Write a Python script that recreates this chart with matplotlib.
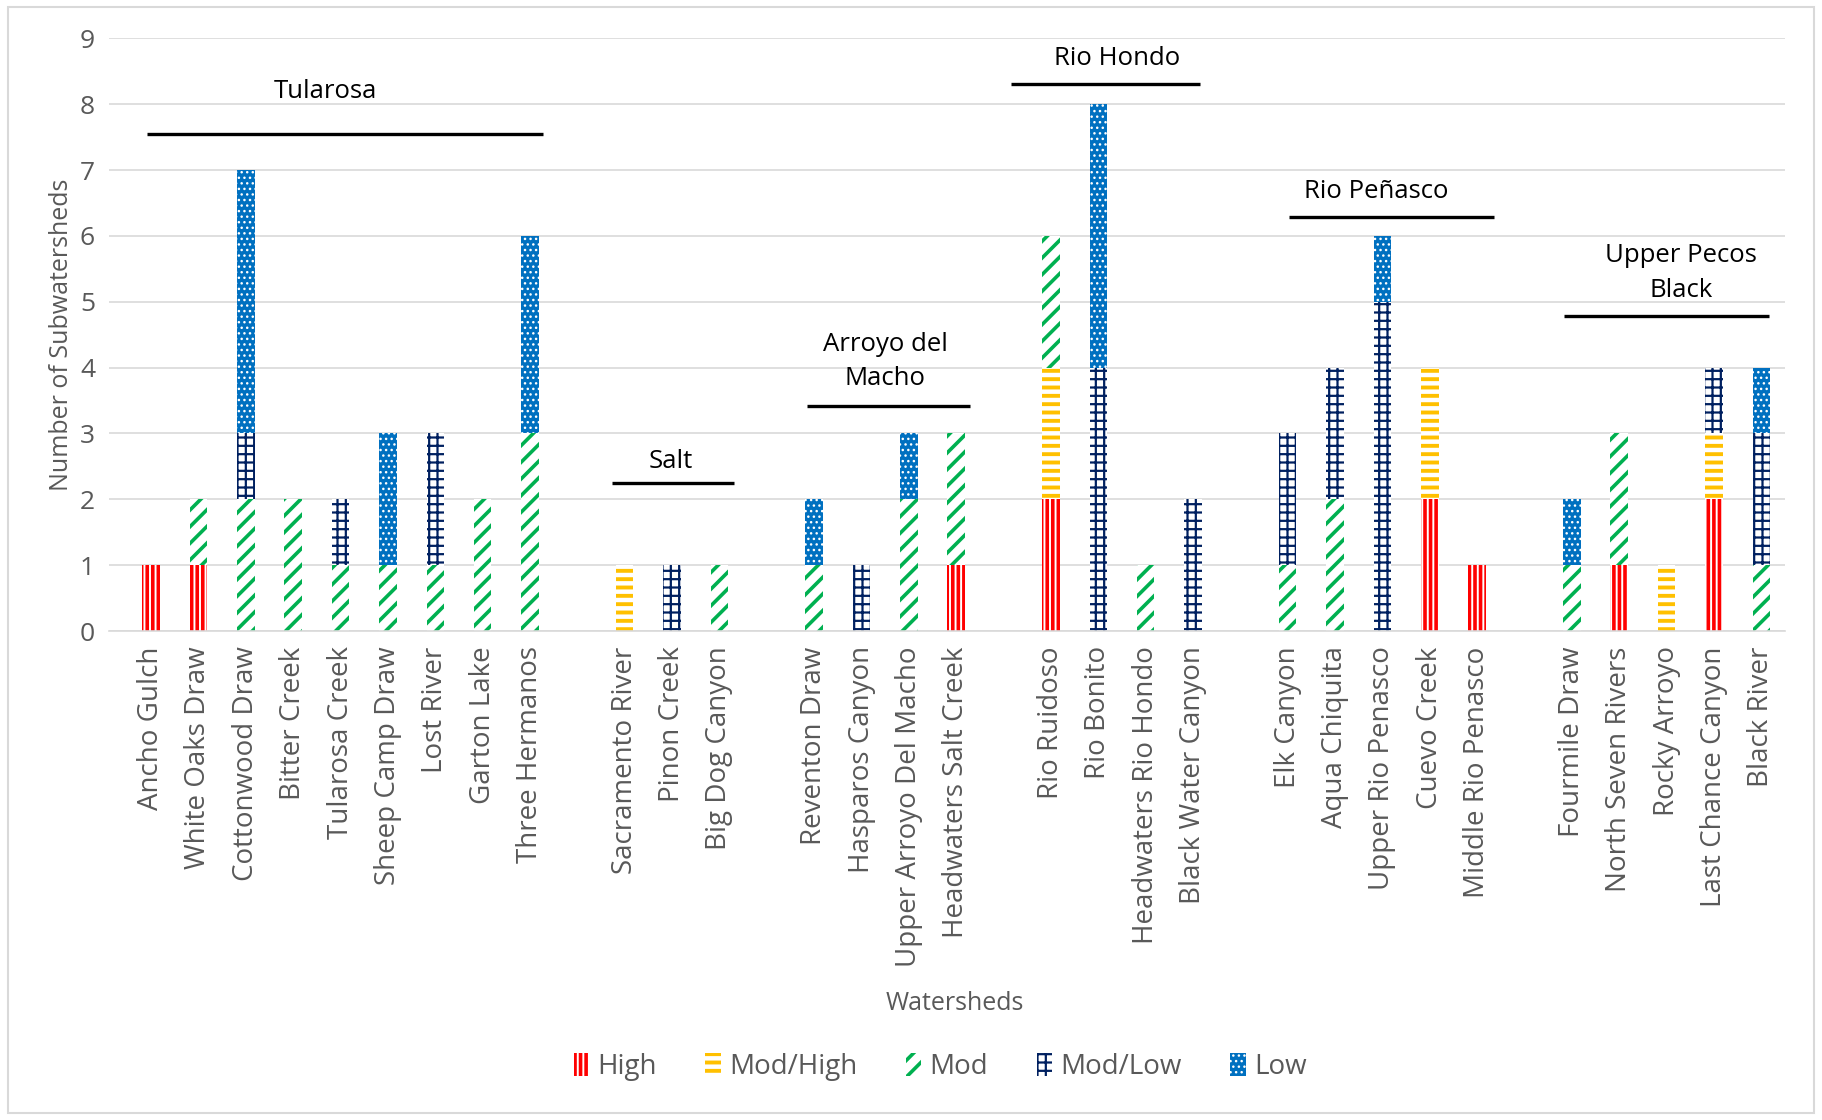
import matplotlib
matplotlib.use("Agg")
import matplotlib.pyplot as plt
from matplotlib.patches import Rectangle
import numpy as np

plt.rcParams['font.family'] = ['Open Sans', 'DejaVu Sans']

# Watersheds (empty strings separate the basin groups)
watersheds = [
    "Ancho Gulch", "White Oaks Draw", "Cottonwood Draw", "Bitter Creek",
    "Tularosa Creek", "Sheep Camp Draw", "Lost River", "Garton Lake",
    "Three Hermanos", "",
    "Sacramento River", "Pinon Creek", "Big Dog Canyon", "",
    "Reventon Draw", "Hasparos Canyon", "Upper Arroyo Del Macho",
    "Headwaters Salt Creek", "",
    "Rio Ruidoso", "Rio Bonito", "Headwaters Rio Hondo", "Black Water Canyon", "",
    "Elk Canyon", "Aqua Chiquita", "Upper Rio Penasco", "Cuevo Creek",
    "Middle Rio Penasco", "",
    "Fourmile Draw", "North Seven Rivers", "Rocky Arroyo", "Last Chance Canyon",
    "Black River",
]

# Number of subwatersheds in each rating class
high     = [1, 1, 0, 0, 0, 0, 0, 0, 0, 0, 0, 0, 0, 0, 0, 0, 0, 1, 0, 2, 0, 0, 0, 0, 0, 0, 0, 2, 1, 0, 0, 1, 0, 2, 0]
mod_high = [0, 0, 0, 0, 0, 0, 0, 0, 0, 0, 1, 0, 0, 0, 0, 0, 0, 0, 0, 2, 0, 0, 0, 0, 0, 0, 0, 2, 0, 0, 0, 0, 1, 1, 0]
mod      = [0, 1, 2, 2, 1, 1, 1, 2, 3, 0, 0, 0, 1, 0, 1, 0, 2, 2, 0, 2, 0, 1, 0, 0, 1, 2, 0, 0, 0, 0, 1, 2, 0, 0, 1]
mod_low  = [0, 0, 1, 0, 1, 0, 2, 0, 0, 0, 0, 1, 0, 0, 0, 1, 0, 0, 0, 0, 4, 0, 2, 0, 2, 2, 5, 0, 0, 0, 0, 0, 0, 1, 2]
low      = [0, 0, 4, 0, 0, 2, 0, 0, 3, 0, 0, 0, 0, 0, 1, 0, 1, 0, 0, 0, 4, 0, 0, 0, 0, 0, 1, 0, 0, 0, 1, 0, 0, 0, 1]

# Basin group labels: (text, label x, label y, line start, line end, line y)
groups = [
    ("Tularosa", 3.68, 8.19, -0.08, 8.27, 7.55),
    ("Salt", 10.98, 2.58, 9.74, 12.31, 2.24),
    ("Arroyo del\nMacho", 15.5, 4.09, 13.84, 17.29, 3.42),
    ("Rio Hondo", 20.39, 8.69, 18.16, 22.15, 8.31),
    ("Rio Peñasco", 25.86, 6.68, 24.02, 28.36, 6.28),
    ("Upper Pecos\nBlack", 32.31, 5.44, 29.84, 34.16, 4.78),
]

series = [
    ("High", high, dict(facecolor="white", edgecolor="#FF0000", hatch="|||"), 2.6),
    ("Mod/High", mod_high, dict(facecolor="white", edgecolor="#FFC000", hatch="--"), 2.8),
    ("Mod", mod, dict(facecolor="white", edgecolor="#00B050", hatch="//"), 2.6),
    ("Mod/Low", mod_low, dict(facecolor="white", edgecolor="#002060", hatch="++"), 1.6),
    ("Low", low, dict(facecolor="#0070C0", edgecolor="white", hatch="..."), 1.0),
]

TEXT = "#595959"


def set_hatch_lw(patch, lw):
    if hasattr(patch, "set_hatch_linewidth"):
        patch.set_hatch_linewidth(lw)
    else:
        patch._hatch_linewidth = lw


fig = plt.figure(figsize=(18.22, 11.2), dpi=100)
ax = fig.add_axes([0.0598, 0.4366, 0.9199, 0.5292])

x = np.arange(len(watersheds))
bottom = np.zeros(len(watersheds))
handles = []
for name, vals, style, hlw in series:
    vals = np.asarray(vals, dtype=float)
    with plt.rc_context({"hatch.linewidth": hlw}):
        bars = ax.bar(x, vals, width=0.37, bottom=bottom, linewidth=0,
                      label=name, zorder=2, **style)
        for b in bars:
            set_hatch_lw(b, hlw)
    handles.append(bars)
    bottom += vals

ax.set_xlim(-0.89, 34.5)
ax.set_ylim(0, 9)
ax.set_yticks(range(0, 10))
ax.set_xticks(x)
ax.set_xticklabels(watersheds, rotation=90, fontsize=20, color=TEXT)
ax.tick_params(axis="x", length=0, pad=11)
ax.tick_params(axis="y", length=0, pad=10, labelsize=19, labelcolor=TEXT)
ax.grid(axis="y", color="#D9D9D9", linewidth=1.2, zorder=0)
ax.set_axisbelow(True)
for side in ("top", "right", "left"):
    ax.spines[side].set_visible(False)
ax.spines["bottom"].set_color("#D9D9D9")
ax.spines["bottom"].set_linewidth(1.2)

ax.set_ylabel("Number of Subwatersheds", fontsize=18, color=TEXT)
ax.yaxis.set_label_coords(-0.021, 0.5)
fig.text(0.524, 0.104, "Watersheds", ha="center", va="center", fontsize=18, color=TEXT)

for text, tx, ty, x0, x1, ly in groups:
    ax.text(tx, ty, text, ha="center", va="center", fontsize=18.5, color="black",
            linespacing=1.5, zorder=4)
    ax.plot([x0, x1], [ly, ly], color="black", linewidth=2.4, solid_capstyle="butt",
            zorder=4, clip_on=False)

leg = fig.legend(handles=handles, labels=[s[0] for s in series], loc="center",
                 bbox_to_anchor=(0.516, 0.047), ncol=5, frameon=False, fontsize=20,
                 labelcolor=TEXT, handlelength=0.55, handleheight=0.9,
                 handletextpad=0.3, columnspacing=1.75)
for p, (_, _, _, hlw) in zip(leg.get_patches(), series):
    set_hatch_lw(p, hlw)

# light frame around the whole chart
fig.patches.append(Rectangle((0.0045, 0.006), 0.991, 0.988, transform=fig.transFigure,
                             fill=False, edgecolor="#D9D9D9", linewidth=1.5))

fig.savefig("out.png", dpi=100, facecolor="white")
